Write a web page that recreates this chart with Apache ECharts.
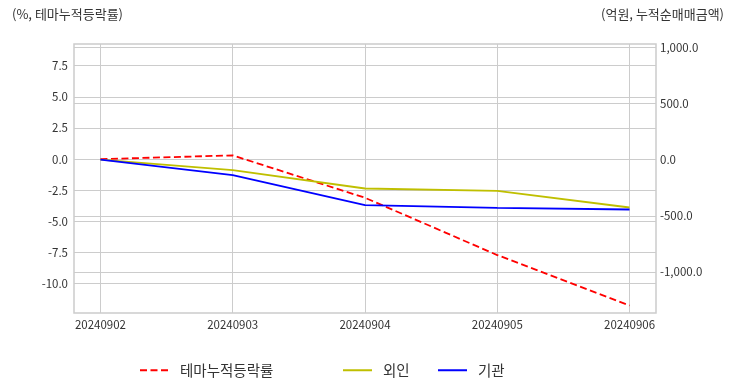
<!DOCTYPE html>
<html><head><meta charset="utf-8">
<script src="https://cdn.jsdelivr.net/npm/echarts@6/dist/echarts.min.js"></script>
<style>html,body{margin:0;padding:0;background:#fff}#c{width:732px;height:392px}</style>
</head><body><div id="c"></div>
<script>
const categories = ['20240902','20240903','20240904','20240905','20240906'];
const themeReturn = [0, 0.3, -3.1, -7.7, -11.75];
const foreignNet = [0, -94, -257, -278, -426];
const instNet = [0, -138, -405, -429, -444];
const leftTicks = [-10, -7.5, -5, -2.5, 0, 2.5, 5, 7.5];
const rightTicks = [-1000, -500, 0, 500, 1000];
const seriesNames = ['테마누적등락률', '외인', '기관'];

const numFont = "'Noto Sans CJK KR',sans-serif";
const krFont = "'Noto Sans CJK KR',sans-serif";
const txt = '#333';
const gridC = '#cccccc';
const toPts = arr => arr.map((v, i) => [i, v]);
const fmtR = v => v.toLocaleString('en-US', {minimumFractionDigits: 1, maximumFractionDigits: 1});

const chart = echarts.init(document.getElementById('c'), null, {renderer: 'canvas'});
const legendBase = {
  top: 358, itemWidth: 29, itemHeight: 14,
  itemStyle: {opacity: 0, borderWidth: 0},
  textStyle: {fontFamily: krFont, fontSize: 14.5, color: txt, padding: [0, 0, 0, 6]}
};
chart.setOption({
  animation: false,
  backgroundColor: '#fff',
  grid: {left: 74, right: 76, top: 44, bottom: 79, show: true, borderColor: gridC, borderWidth: 1.5, containLabel: false},
  title: [
    {text: '(%, 테마누적등락률)', left: 7, top: 3, textStyle: {fontFamily: krFont, fontSize: 13, fontWeight: 'normal', color: txt}},
    {text: '(억원, 누적순매매금액)', right: 3, top: 3, textStyle: {fontFamily: krFont, fontSize: 13, fontWeight: 'normal', color: txt}}
  ],
  legend: [
    Object.assign({}, legendBase, {left: 134, data: [seriesNames[0]]}),
    Object.assign({}, legendBase, {left: 337, data: [seriesNames[1]]}),
    Object.assign({}, legendBase, {left: 432, data: [seriesNames[2]]})
  ],
  xAxis: {
    type: 'value', min: -0.2, max: 4.2,
    axisLine: {show: false}, axisTick: {show: false, customValues: [0,1,2,3,4]},
    axisLabel: {customValues: [0,1,2,3,4], formatter: v => categories[Math.round(v)], fontFamily: numFont, fontSize: 11.5, color: txt, margin: 6},
    splitLine: {show: true, lineStyle: {color: gridC, width: 1}}
  },
  yAxis: [
    {type: 'value', min: -12.35, max: 9.24, position: 'left',
     axisLine: {show: false}, axisTick: {show: false, customValues: leftTicks},
     axisLabel: {customValues: leftTicks, formatter: v => v.toFixed(1), fontFamily: numFont, fontSize: 11.5, color: txt, margin: 6},
     splitLine: {show: true, lineStyle: {color: gridC, width: 1}}},
    {type: 'value', min: -1365, max: 1029, position: 'right',
     axisLine: {show: false}, axisTick: {show: false, customValues: rightTicks},
     axisLabel: {customValues: rightTicks, formatter: fmtR, fontFamily: numFont, fontSize: 11.5, color: txt, margin: 4},
     splitLine: {show: true, lineStyle: {color: gridC, width: 1}}}
  ],
  series: [
    {name: seriesNames[0], type: 'line', yAxisIndex: 0, data: toPts(themeReturn), symbol: 'none', z: 3,
     lineStyle: {color: '#ff0000', width: 1.8, type: [7, 3.5]}, itemStyle: {color: '#ff0000'}},
    {name: seriesNames[1], type: 'line', yAxisIndex: 1, data: toPts(foreignNet), symbol: 'none',
     lineStyle: {color: '#bfbf00', width: 1.8}, itemStyle: {color: '#bfbf00'}},
    {name: seriesNames[2], type: 'line', yAxisIndex: 1, data: toPts(instNet), symbol: 'none',
     lineStyle: {color: '#0000ff', width: 1.8}, itemStyle: {color: '#0000ff'}}
  ]
});
</script></body></html>
